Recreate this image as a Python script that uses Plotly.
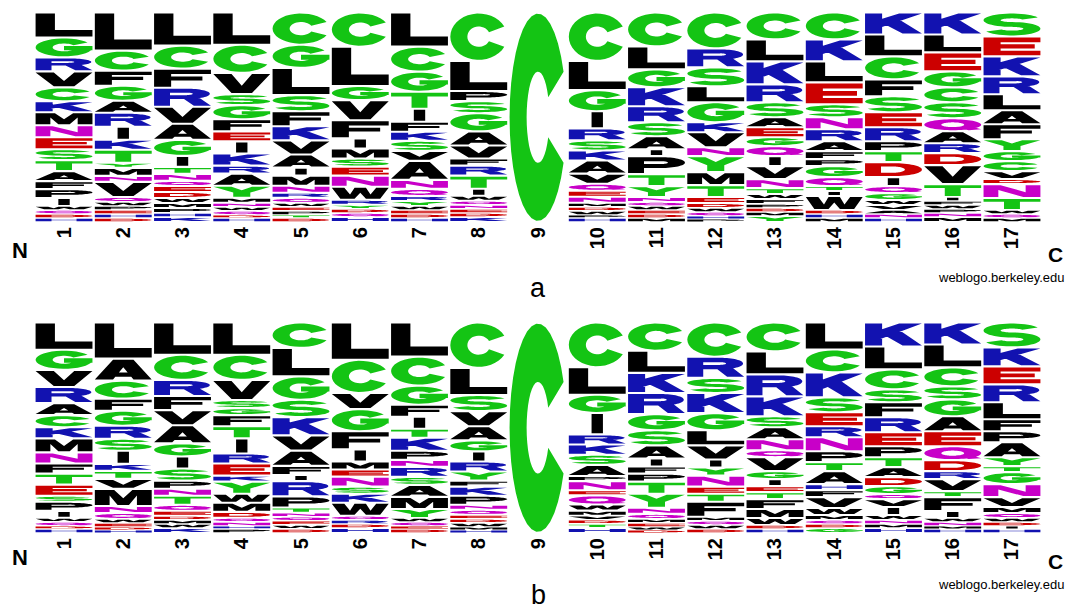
import math
import plotly.graph_objects as go

# ---------------- data ----------------
POSITIONS = list(range(1, 18))
TICK_TEXT = [str(p) for p in POSITIONS]

# panel a : residues of every stack from top to bottom, with their relative heights
A_LETTERS = [
    "LGRVCKMNESTAFPIWQDH", "LCFGARIKTYMNVQWPEHD", "LCFRVAGITNQEDWMPHK",
    "LCVSGFEIKRAYMNWQDH", "CGLSFKVAIMNRQWEPTD", "CLGVFIMSENWRYDQH",
    "LCGTIFKSVANQRYWEDH", "CLPSGAVFRTIWQNEDK", "C",
    "CLGIRSKAVQENMDWPH", "CLGKRSAIPTYNQWEDM", "CRSLGKVNYMTEDWQHP",
    "CLKRSAEGQIVNTWFPDMY", "CKLESNRAFPGQTIWDHM", "KLCFSERPTDIQGWVANH",
    "KLEGCSQARDVTIFWPNM", "SEKRLAFYGCVDNTWQM",
]
A_HEIGHTS = [
    [25, 20, 14, 16, 14, 11, 13, 12, 12, 11, 11, 10, 8, 9, 8, 4, 4, 4, 4],
    [38, 20, 15, 15, 12, 14, 13, 10, 13, 5, 8, 6, 15, 5, 4, 4, 4, 4, 4],
    [33, 23, 19, 19, 17, 16, 16, 11, 7, 7, 5, 6, 6, 5, 5, 5, 4, 5],
    [32, 28, 21, 11, 14, 12, 10, 12, 12, 8, 12, 12, 5, 4, 4, 4, 3, 4],
    [32, 23, 27, 16, 15, 14, 14, 13, 8, 10, 7, 5, 5, 4, 4, 4, 3, 4],
    [34, 39, 14, 20, 18, 10, 10, 8, 9, 11, 13, 5, 4, 4, 4, 5],
    [34, 25, 20, 17, 13, 10, 9, 10, 10, 19, 9, 7, 5, 5, 4, 4, 4, 4],
    [48, 30, 10, 12, 18, 14, 13, 7, 10, 13, 7, 5, 4, 4, 4, 4, 5],
    [208],
    [48, 29, 21, 17, 12, 10, 10, 13, 10, 7, 6, 6, 4, 4, 4, 3, 4],
    [34, 23, 18, 19, 16, 14, 13, 7, 18, 12, 11, 5, 4, 4, 4, 4, 4],
    [36, 19, 19, 16, 20, 10, 15, 9, 16, 13, 12, 6, 5, 4, 4, 3, 3],
    [27, 22, 23, 18, 15, 10, 10, 9, 10, 10, 13, 9, 6, 5, 5, 4, 4, 4, 6],
    [27, 22, 21, 22, 13, 12, 12, 10, 8, 7, 11, 9, 5, 5, 14, 4, 4, 4],
    [22, 22, 23, 17, 16, 15, 14, 10, 11, 15, 9, 7, 7, 5, 5, 4, 4, 4],
    [22, 18, 19, 16, 15, 16, 13, 12, 10, 12, 19, 13, 4, 4, 4, 4, 4, 5],
    [24, 20, 20, 18, 16, 14, 15, 12, 10, 10, 8, 5, 14, 12, 4, 4, 4],
]

# panel b
B_LETTERS = [
    "LGVRACKMNFTESPIWQDH", "LACFGRSIKTVMNQWEDH", "LCRFVAGISPNTQEDMWK",
    "LCVSGFTIREKYWMDQNHP", "CLGSKVAFIRPTNQEWD", "LCVGFIMENSKWQRDH",
    "LCGFITKPNRSAMYWQED", "CLSVAGIRYFKPNQEDWMH", "C",
    "CLGIRKSAPNEQWMVDTH", "CLKRGSAIFPTYNQMEWD", "CRSKGLVIYNETFMQWD",
    "CLRKSANQVGIETFMWDH", "LCKSERNPTAHFVWMQDG", "KLCSFREPTADGQVIWNMH",
    "KLCSGAEQDRVTFIWNMH", "SKERLFPAYTGNVMQWDIH",
]
B_HEIGHTS = [
    [27, 20, 17, 16, 12, 12, 11, 14, 11, 10, 11, 11, 6, 9, 7, 4, 4, 3, 4],
    [36, 22, 18, 12, 15, 13, 12, 13, 7, 8, 10, 17, 7, 6, 4, 4, 3, 3],
    [32, 25, 16, 14, 15, 18, 13, 12, 12, 8, 7, 9, 6, 5, 4, 4, 4, 5],
    [32, 25, 20, 8, 7, 11, 12, 15, 10, 12, 6, 12, 9, 9, 6, 4, 4, 3, 4],
    [25, 28, 23, 17, 18, 15, 15, 9, 6, 15, 11, 5, 4, 4, 4, 4, 4],
    [37, 33, 16, 22, 18, 12, 8, 7, 10, 7, 9, 13, 4, 4, 4, 5],
    [34, 29, 19, 12, 12, 9, 13, 9, 7, 10, 8, 12, 12, 9, 4, 4, 3, 4],
    [45, 27, 16, 15, 14, 11, 10, 10, 9, 6, 9, 9, 5, 5, 4, 4, 4, 3, 3],
    [208],
    [44, 27, 18, 21, 10, 10, 10, 11, 5, 9, 5, 9, 6, 5, 4, 4, 4, 5],
    [28, 22, 20, 21, 16, 15, 13, 8, 7, 8, 12, 14, 6, 5, 4, 4, 3, 3],
    [34, 21, 15, 20, 17, 15, 14, 8, 8, 11, 7, 8, 15, 4, 4, 4, 4],
    [29, 23, 22, 20, 11, 12, 11, 7, 14, 8, 7, 6, 7, 10, 9, 7, 4, 4],
    [27, 23, 25, 15, 14, 11, 14, 11, 9, 13, 6, 7, 11, 7, 5, 4, 4, 5],
    [24, 23, 20, 13, 15, 15, 14, 11, 10, 10, 9, 8, 5, 8, 8, 5, 4, 4, 5],
    [22, 23, 19, 13, 17, 15, 15, 14, 11, 8, 12, 6, 14, 7, 4, 4, 3, 4],
    [25, 19, 18, 18, 17, 12, 11, 15, 9, 6, 12, 13, 10, 6, 5, 4, 4, 3, 4],
]

PANEL_NAMES = ["a", "b"]
CREDIT = "weblogo.berkeley.edu"

# ---------------- style ----------------
GREEN, BLUE, RED, PURPLE, BLACK = "#14c414", "#1212b0", "#cc0000", "#c800c8", "#000000"
RESIDUE_COLOR = {}
for aa in "GSTYC":
    RESIDUE_COLOR[aa] = GREEN
for aa in "NQ":
    RESIDUE_COLOR[aa] = PURPLE
for aa in "KRH":
    RESIDUE_COLOR[aa] = BLUE
for aa in "DE":
    RESIDUE_COLOR[aa] = RED
for aa in "PAWFLIMV":
    RESIDUE_COLOR[aa] = BLACK

GLYPH_WIDTH = 0.96


def rect(x0, y0, x1, y1):
    return [(x0, y0), (x1, y0), (x1, y1), (x0, y1)]


def arc(cx, cy, rx, ry, tx, ty, a0, a1, n=32):
    outer, inner = [], []
    for i in range(n + 1):
        a = math.radians(a0 + (a1 - a0) * i / n)
        outer.append((cx + rx * math.cos(a), cy + ry * math.sin(a)))
        inner.append((cx + (rx - tx) * math.cos(a), cy + (ry - ty) * math.sin(a)))
    return outer + inner[::-1]


def ring(tx=0.3, ty=0.28):
    return [arc(0.5, 0.5, 0.5, 0.5, tx, ty, 0, 181), arc(0.5, 0.5, 0.5, 0.5, tx, ty, 180, 361)]


def glyph(ch):
    if ch == "A":
        return [[(0, 0), (0.32, 1), (0.68, 1), (1, 0), (0.68, 0), (0.5, 0.62), (0.32, 0)],
                rect(0.2, 0.14, 0.8, 0.36)]
    if ch == "C":
        return [arc(0.5, 0.5, 0.5, 0.5, 0.3, 0.28, 26, 334)]
    if ch == "D":
        return [rect(0, 0, 0.28, 1), rect(0, 0.74, 0.5, 1), rect(0, 0, 0.5, 0.26),
                arc(0.5, 0.5, 0.5, 0.5, 0.3, 0.26, -90, 90)]
    if ch == "E":
        return [rect(0, 0, 0.3, 1), rect(0, 0.74, 1, 1), rect(0, 0.38, 0.9, 0.62), rect(0, 0, 1, 0.26)]
    if ch == "F":
        return [rect(0, 0, 0.3, 1), rect(0, 0.74, 1, 1), rect(0, 0.36, 0.85, 0.6)]
    if ch == "G":
        return [arc(0.5, 0.5, 0.5, 0.5, 0.3, 0.28, 34, 360), rect(0.5, 0.34, 1, 0.58)]
    if ch == "H":
        return [rect(0, 0, 0.28, 1), rect(0.72, 0, 1, 1), rect(0, 0.38, 1, 0.62)]
    if ch == "I":
        return [rect(0.4, 0, 0.6, 1)]
    if ch == "K":
        return [rect(0, 0, 0.3, 1), [(0.26, 0.28), (1, 1), (0.6, 1), (0.26, 0.7)],
                [(0.32, 0.5), (0.66, 0), (1, 0), (0.6, 0.7)]]
    if ch == "L":
        return [rect(0, 0, 0.34, 1), rect(0, 0, 1, 0.28)]
    if ch == "M":
        return [[(0, 0), (0, 1), (0.34, 1), (0.5, 0.45), (0.66, 1), (1, 1), (1, 0), (0.74, 0),
                 (0.74, 0.62), (0.6, 0), (0.4, 0), (0.26, 0.62), (0.26, 0)]]
    if ch == "N":
        return [[(0, 0), (0, 1), (0.3, 1), (0.74, 0.4), (0.74, 1), (1, 1), (1, 0), (0.7, 0),
                 (0.26, 0.6), (0.26, 0)]]
    if ch == "P":
        return [rect(0, 0, 0.28, 1), rect(0, 0.74, 0.58, 1), rect(0, 0.32, 0.58, 0.57),
                arc(0.58, 0.66, 0.42, 0.34, 0.3, 0.25, -90, 90)]
    if ch == "Q":
        return ring() + [[(0.55, 0.3), (0.78, 0.0), (1.0, 0.08), (0.78, 0.4)]]
    if ch == "R":
        return [rect(0, 0, 0.28, 1), rect(0, 0.76, 0.58, 1), rect(0, 0.4, 0.58, 0.62),
                arc(0.58, 0.7, 0.4, 0.3, 0.3, 0.23, -90, 90),
                [(0.5, 0.46), (0.7, 0), (1, 0), (0.8, 0.46)]]
    if ch == "S":
        return [arc(0.5, 0.695, 0.5, 0.305, 0.3, 0.22, 25, 270),
                arc(0.5, 0.305, 0.5, 0.305, 0.3, 0.22, 205, 450)]
    if ch == "T":
        return [rect(0, 0.74, 1, 1), rect(0.36, 0, 0.64, 1)]
    if ch == "V":
        return [[(0, 1), (0.32, 1), (0.5, 0.38), (0.68, 1), (1, 1), (0.68, 0), (0.32, 0)]]
    if ch == "W":
        return [[(0, 1), (0.22, 1), (0.32, 0.38), (0.4, 1), (0.6, 1), (0.68, 0.38), (0.78, 1),
                 (1, 1), (0.85, 0), (0.6, 0), (0.5, 0.55), (0.4, 0), (0.15, 0)]]
    if ch == "Y":
        return [[(0, 1), (0.32, 1), (0.5, 0.66), (0.68, 1), (1, 1), (0.65, 0.42), (0.65, 0),
                 (0.35, 0), (0.35, 0.42)]]
    return [rect(0, 0, 1, 1)]


def ccw(poly):
    area = 0.0
    for i in range(len(poly)):
        x0, y0 = poly[i]
        x1, y1 = poly[(i + 1) % len(poly)]
        area += x0 * y1 - x1 * y0
    return poly if area > 0 else poly[::-1]


def panel_shapes(letters, heights, xref, yref):
    paths = {}
    for pos, stack, hs in zip(POSITIONS, letters, heights):
        total = float(sum(hs))
        y = 0.0
        # bottom of the stack is the last residue in the list
        for ch, h in reversed(list(zip(stack, hs))):
            f = h / total
            pad = min(0.005, 0.2 * f)
            y0, y1 = y + pad, y + f - pad
            x0 = pos - GLYPH_WIDTH / 2
            segs = paths.setdefault(RESIDUE_COLOR[ch], [])
            for poly in glyph(ch):
                pts = ccw(poly)
                s = "M" + " L".join(
                    "%.4f,%.5f" % (x0 + u * GLYPH_WIDTH, y0 + v * (y1 - y0)) for u, v in pts
                ) + " Z"
                segs.append(s)
            y += f
    shapes = []
    for color, segs in paths.items():
        shapes.append(dict(type="path", path=" ".join(segs), xref=xref, yref=yref,
                           fillcolor=color, line=dict(width=0), fillrule="nonzero",
                           layer="above"))
    return shapes


fig = go.Figure()
for xa, ya in (("x", "y"), ("x2", "y2")):
    fig.add_trace(go.Scatter(x=POSITIONS, y=[0] * len(POSITIONS), xaxis=xa, yaxis=ya,
                             mode="markers", marker=dict(opacity=0), hoverinfo="skip",
                             showlegend=False))

shapes = panel_shapes(A_LETTERS, A_HEIGHTS, "x", "y") + panel_shapes(B_LETTERS, B_HEIGHTS, "x2", "y2")

W, H = 1070, 616
XDOM = [34.4 / W, 1041.6 / W]
tickfont = dict(family="Liberation Sans, Arial, sans-serif", size=20, color="black", weight="bold")
xaxis_style = dict(domain=XDOM, range=[0.5, 17.5], tickmode="array", tickvals=POSITIONS,
                   ticktext=TICK_TEXT, tickangle=-90, tickfont=tickfont, showgrid=False,
                   zeroline=False, showline=False, ticks="", fixedrange=True)
yaxis_style = dict(range=[0, 1], visible=False, fixedrange=True, showgrid=False, zeroline=False)

ann = []
for name, dy in zip(PANEL_NAMES, (0, 307)):
    def py(p):
        return 1 - (p + dy) / H
    ann += [
        dict(text="<b>N</b>", x=19.5 / W, y=py(250), xref="paper", yref="paper",
             showarrow=False, xanchor="center", yanchor="middle",
             font=dict(family="Liberation Sans", size=22, color="black")),
        dict(text="<b>C</b>", x=1055 / W, y=py(254), xref="paper", yref="paper",
             showarrow=False, xanchor="center", yanchor="middle",
             font=dict(family="Liberation Sans", size=21, color="black")),
        dict(text=CREDIT, x=1001 / W, y=py(277.5), xref="paper", yref="paper",
             showarrow=False, xanchor="center", yanchor="middle",
             font=dict(family="Liberation Sans", size=13, color="black")),
        dict(text=name, x=538 / W, y=py(288), xref="paper", yref="paper",
             showarrow=False, xanchor="center", yanchor="middle",
             font=dict(family="Liberation Sans", size=27, color="black")),
    ]

fig.update_layout(
    width=W, height=H, margin=dict(l=0, r=0, t=0, b=0),
    paper_bgcolor="white", plot_bgcolor="white", showlegend=False,
    xaxis=dict(anchor="y", **xaxis_style),
    yaxis=dict(anchor="x", domain=[1 - 222 / H, 1 - 12.5 / H], **yaxis_style),
    xaxis2=dict(anchor="y2", **xaxis_style),
    yaxis2=dict(anchor="x2", domain=[1 - 533 / H, 1 - 322.5 / H], **yaxis_style),
    shapes=shapes, annotations=ann,
)

fig.write_html("out.html")
